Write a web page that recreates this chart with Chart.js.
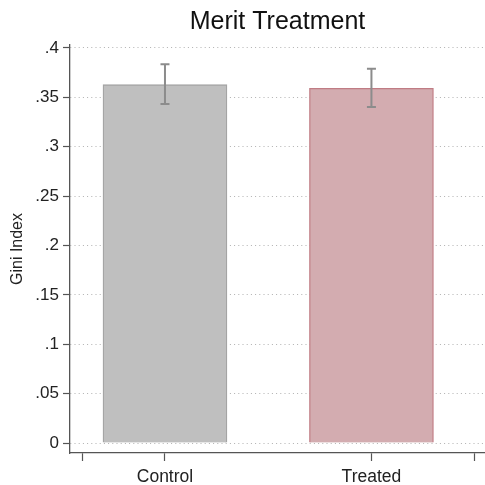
<!DOCTYPE html>
<html>
<head>
<meta charset="utf-8">
<script src="https://cdn.jsdelivr.net/npm/chart.js@4"></script>
<style>
  html, body { margin: 0; padding: 0; background: #fff; }
  #wrap { width: 485px; height: 485px; }
</style>
</head>
<body>
<div id="wrap"><canvas id="chart" width="485" height="485"></canvas></div>
<script>
// values
const groups = ['Control', 'Treated']
const giniMean = [0.3628, 0.3592]
const ciLow = [0.3433, 0.3403]
const ciHigh = [0.3835, 0.3790]
const yTicks = [0, 0.05, 0.1, 0.15, 0.2, 0.25, 0.3, 0.35, 0.4]
const xTicks = [0.6, 1, 2, 2.5]

const barFill = ['#bfbfbf', '#d3acb0']
const barLine = ['#a4a4a4', '#c07c84']
const fontFam = "'Liberation Sans', Arial, sans-serif"

function fmtTick(v) {
    if (Math.abs(v) < 1e-9) return '0'
    let s = String(Math.round(v * 100) / 100)
    return s.replace(/^0\./, '.')
}

// gray confidence interval whiskers
const errorBars = {
    id: 'errorBars',
    afterDatasetsDraw(chart) {
        let ctx = chart.ctx
        let xs = chart.scales.x, ys = chart.scales.y
        ctx.save()
        ctx.strokeStyle = '#8c8c8c'
        ctx.lineWidth = 2
        for (let i = 0; i < groups.length; i++) {
            let x = xs.getPixelForValue(i + 1)
            let top = ys.getPixelForValue(ciHigh[i])
            let bot = ys.getPixelForValue(ciLow[i])
            ctx.beginPath()
            ctx.moveTo(x, top); ctx.lineTo(x, bot)
            ctx.moveTo(x - 4.5, top); ctx.lineTo(x + 4.5, top)
            ctx.moveTo(x - 4.5, bot); ctx.lineTo(x + 4.5, bot)
            ctx.stroke()
        }
        ctx.restore()
    }
}

let points = groups.map((g, i) => ({ x: i + 1, y: giniMean[i] }))

new Chart(document.getElementById('chart'), {
    type: 'bar',
    data: {
        datasets: [{
            data: points,
            backgroundColor: barFill,
            borderColor: barLine,
            borderWidth: 1.3,
            barThickness: 124
        }]
    },
    options: {
        responsive: false,
        animation: false,
        layout: { padding: 0 },
        plugins: {
            legend: { display: false },
            tooltip: { enabled: false },
            title: {
                display: true,
                fullSize: false,
                text: 'Merit Treatment',
                color: '#111',
                font: { family: fontFam, size: 25, weight: 'normal', lineHeight: 1.2 },
                padding: { top: 7, bottom: 8 }
            }
        },
        scales: {
            x: {
                type: 'linear',
                min: 0.54,
                max: 2.55,
                offset: false,
                afterBuildTicks: s => { s.ticks = xTicks.map(v => ({ value: v })) },
                afterFit: s => { s.height = 32 },
                ticks: {
                    autoSkip: false,
                    maxRotation: 0,
                    padding: 6,
                    color: '#222',
                    font: { family: fontFam, size: 17.5 },
                    callback: v => (Number.isInteger(v) ? groups[v - 1] : '')
                },
                grid: { offset: false, drawOnChartArea: false, drawTicks: true, tickLength: 8, tickColor: '#555', tickWidth: 1.2 },
                border: { display: true, color: '#555', width: 1.3 }
            },
            y: {
                min: -0.0101,
                max: 0.403,
                z: 1,
                afterBuildTicks: s => { s.ticks = yTicks.map(v => ({ value: v })) },
                afterFit: s => { s.width = 70 },
                ticks: {
                    padding: 4,
                    color: '#222',
                    font: { family: fontFam, size: 17 },
                    callback: v => fmtTick(v)
                },
                grid: {
                    color: '#b0b0b0',
                    lineWidth: 1,
                    drawTicks: true,
                    tickLength: 7,
                    tickColor: '#555',
                    tickWidth: 1.2,
                    tickBorderDash: []
                },
                border: { display: true, color: '#555', width: 1.3, dash: [1, 3.2] },
                title: {
                    display: true,
                    text: 'Gini Index',
                    color: '#222',
                    font: { family: fontFam, size: 16 },
                    padding: { top: 8, bottom: 0 }
                }
            }
        }
    },
    plugins: [errorBars]
})
</script>
</body>
</html>
